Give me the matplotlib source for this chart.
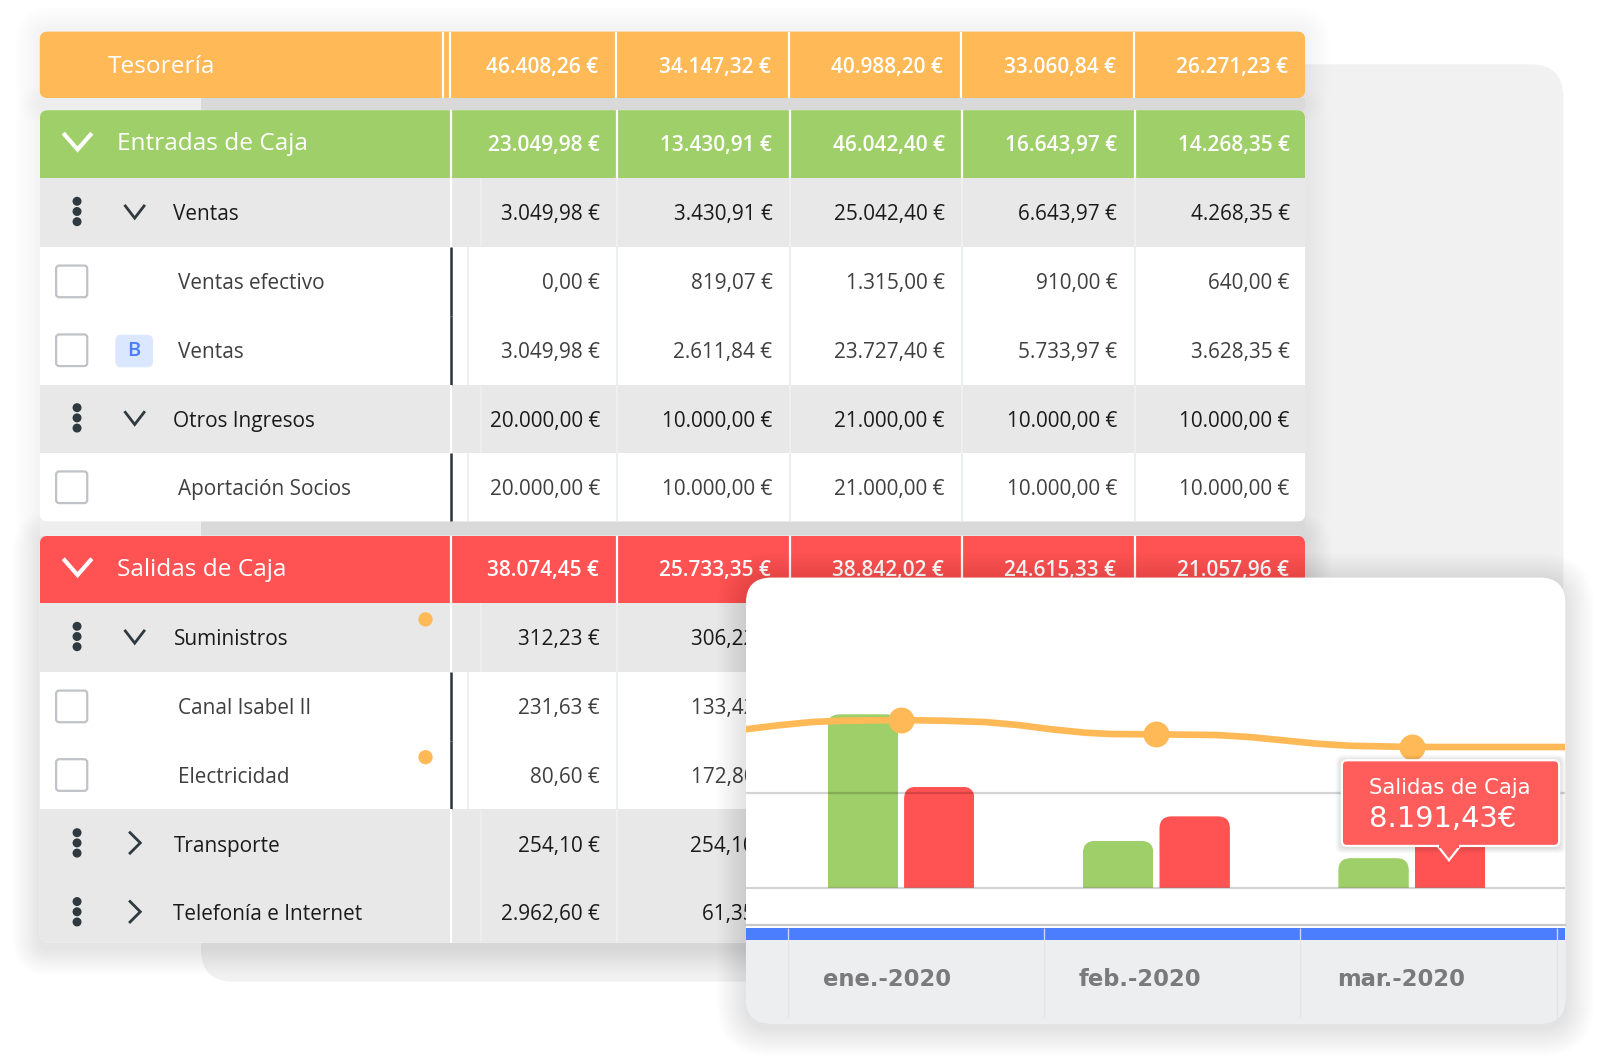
import matplotlib
matplotlib.use("Agg")
import matplotlib.pyplot as plt
from matplotlib.patches import FancyBboxPatch, Rectangle, Circle, Polygon
from matplotlib.path import Path
from matplotlib.transforms import ScaledTranslation

# ---------- data ----------
tesoreria_vals = ["46.408,26 €", "34.147,32 €", "40.988,20 €", "33.060,84 €", "26.271,23 €"]
entradas_vals = ["23.049,98 €", "13.430,91 €", "46.042,40 €", "16.643,97 €", "14.268,35 €"]
ventas_vals = ["3.049,98 €", "3.430,91 €", "25.042,40 €", "6.643,97 €", "4.268,35 €"]
efectivo_vals = ["0,00 €", "819,07 €", "1.315,00 €", "910,00 €", "640,00 €"]
ventas_b_vals = ["3.049,98 €", "2.611,84 €", "23.727,40 €", "5.733,97 €", "3.628,35 €"]
otros_vals = ["20.000,00 €", "10.000,00 €", "21.000,00 €", "10.000,00 €", "10.000,00 €"]
socios_vals = ["20.000,00 €", "10.000,00 €", "21.000,00 €", "10.000,00 €", "10.000,00 €"]
salidas_vals = ["38.074,45 €", "25.733,35 €", "38.842,02 €", "24.615,33 €", "21.057,96 €"]
suministros_vals = ["312,23 €", "306,22 €"]
canal_vals = ["231,63 €", "133,42 €"]
electricidad_vals = ["80,60 €", "172,80 €"]
transporte_vals = ["254,10 €", "254,10 €"]
telefonia_vals = ["2.962,60 €", "61,35 €"]

months = ["ene.-2020", "feb.-2020", "mar.-2020"]
chart_entradas = [24260, 6560, 4140]
chart_salidas = [14130, 9990, 8191.43]
tesoreria_points = [23460, 21460, 19730]
curve_x = [-0.61, -0.48, -0.35, -0.232, 0.002, 0.172, 0.329, 0.459, 0.59, 0.72, 0.825, 0.994,
           1.236, 1.366, 1.497, 1.628, 1.758, 2.0, 2.61]
curve_y = [22160, 22720, 23180, 23360, 23460, 23360, 23180, 22760, 22160, 21690, 21500, 21460,
           21360, 21080, 20620, 20150, 19860, 19690, 19690]
grid_values = [0, 13200]
tooltip_title = "Salidas de Caja"
tooltip_value = "8.191,43€"

# ---------- style ----------
ORANGE = "#ffb957"; GREEN = "#9fcf68"; RED = "#ff5252"; GREY = "#e8e8e8"; BLUE = "#4a7dff"
DARK = "#2f3a40"
FONT = "Open Sans"
W, H = 1568, 1036.8

fig = plt.figure(figsize=(16, 10.58), dpi=100, facecolor="white")
ax = fig.add_axes([0, 0, 1, 1], zorder=1)
ax.set_xlim(0, W); ax.set_ylim(H, 0); ax.axis("off")


def rbox(x0, y0, x1, y1, r, **kw):
    p = FancyBboxPatch((x0, y0), x1 - x0, y1 - y0, boxstyle=f"round,pad=0,rounding_size={r}", **kw)
    ax.add_patch(p)
    return p


def shadow(x0, y0, x1, y1, r, spread, total, z, dy=0):
    n = int(spread / 2)
    for i in range(n):
        s = spread * (1 - i / n)
        rbox(x0 - s, y0 - s + dy, x1 + s, y1 + s + dy, r + s, fc=(0, 0, 0, total / n), ec="none", zorder=z)


# back card
rbox(197, 63, 1532, 962, 32, fc="#f1f1f1", ec="none", zorder=0)
shadow(39, 31, 1279, 96, 8, 24, 0.06, 0.2)
shadow(39, 108, 1279, 511, 8, 24, 0.06, 0.2)
shadow(39, 525, 1279, 924, 8, 26, 0.09, 0.2, dy=5)
for ya, yb in [(96, 108), (511, 525)]:
    ax.add_patch(Rectangle((39, ya), 158, yb - ya, fc="#eeeeee", ec="none", zorder=0.3))
    ax.add_patch(Rectangle((197, ya), 1082, yb - ya, fc="#d9d9d9", ec="none", zorder=0.3))

VAL_R = [588, 757, 926, 1095, 1264]
COL = [442, 605, 774, 943, 1112]
X0, X1 = 39, 1279
BODY = 14.95


def txt(x, y, s, size=BODY, color="#1b1b1b", ha="left", weight="normal", z=5):
    ax.text(x, y, s, fontsize=size, color=color, ha=ha, va="baseline", family=FONT, weight=weight, zorder=z)


def values(vals, yc, color="#1b1b1b", dx=0, weight="normal", size=BODY):
    for r, v in zip(VAL_R, vals):
        txt(r + dx, yc + 7.5, v, color=color, ha="right", weight=weight, size=size)


def vsep(x, y0, y1, color, lw=1.5, z=4):
    ax.plot([x, x], [y0, y1], color=color, lw=lw, solid_capstyle="butt", zorder=z)


def chevron(x, y, w, h, down=True, color=DARK, lw=2.0):
    if down:
        xs, ys = [x - w, x, x + w], [y - h, y + h, y - h]
    else:
        xs, ys = [x - h, x + h, x - h], [y - w, y, y + w]
    ax.plot(xs, ys, color=color, lw=lw, solid_joinstyle="miter", solid_capstyle="butt", zorder=5)


def kebab(yc):
    for dy in (-10, 0, 10):
        ax.add_patch(Circle((75.5, yc + dy), 4.4, fc=DARK, ec="none", zorder=5))


def checkbox(yc):
    rbox(55, yc - 15.5, 85.5, yc + 15.5, 3, fc="white", ec="#bfc3c7", lw=1.6, zorder=5)


def header(y0, y1, color, label, clip, tx=115, cols=COL, dy=6):
    r = Rectangle((X0, y0), X1 - X0, y1 - y0, fc=color, ec="none", zorder=1)
    ax.add_patch(r); r.set_clip_path(clip)
    for c in cols:
        vsep(c, y0, y1, "white", 1.6)
    yc = (y0 + y1) / 2
    txt(tx, yc + dy, label, size=17.6, color="white")


def grey_row(y0, y1, label, vals, clip, down=True, yc=None):
    r = Rectangle((X0, y0), X1 - X0, y1 - y0, fc=GREY, ec="none", zorder=1)
    ax.add_patch(r); r.set_clip_path(clip)
    vsep(COL[0], y0, y1, "white", 1.6)
    vsep(471, y0, y1, "#f0f0f0", 1.2)
    for c in COL[1:]:
        vsep(c, y0, y1, "#f1f1f1", 1.2)
    yc = (y0 + y1) / 2 if yc is None else yc
    kebab(yc - 1)
    if down:
        chevron(132, yc - 1, 10, 6.5)
    else:
        chevron(132, yc - 1, 11, 5.5, down=False)
    txt(170, yc + 7.5, label)
    values(vals, yc)


def white_row(y0, y1, label, vals, clip):
    r = Rectangle((X0, y0), X1 - X0, y1 - y0, fc="white", ec="none", zorder=1)
    ax.add_patch(r); r.set_clip_path(clip)
    vsep(COL[0], y0, y1, "#2b3238", 1.8)
    vsep(459, y0, y1, "#e9ecee", 1.2)
    for c in COL[1:]:
        vsep(c, y0, y1, "#e9ecee", 1.2)
    yc = (y0 + y1) / 2
    checkbox(yc)
    txt(174.5, yc + 7.5, label, color="#3f3f3f")
    values(vals, yc, color="#3f3f3f")


# group 1: Tesorería
c1 = rbox(X0, 31, X1, 96, 8, fc=ORANGE, ec="none", zorder=1)
header(31, 96, ORANGE, "Tesorería", c1, tx=106, cols=[434, 441, 604, 773, 942, 1111], dy=8)
values(tesoreria_vals, 64, color="white", dx=-1.5, weight="semibold", size=15.0)

# group 2: Entradas
c2 = rbox(X0, 108, X1, 511, 8, fc="white", ec="none", zorder=0.9)
rows2 = [108, 174.5, 242, 309.5, 377, 444, 511]
header(rows2[0], rows2[1], GREEN, "Entradas de Caja", c2)
values(entradas_vals, 140, color="white", weight="semibold", size=15.0)
chevron(76, 138.5, 14, 8, color="white", lw=3.0)
grey_row(rows2[1], rows2[2], "Ventas", ventas_vals, c2)
white_row(rows2[2], rows2[3], "Ventas efectivo", efectivo_vals, c2)
white_row(rows2[3], rows2[4], "Ventas", ventas_b_vals, c2)
rbox(113, 328, 150, 360, 6, fc="#dbe7ff", ec="none", zorder=5)
ax.text(131, 344, "B", color=BLUE, fontsize=14.5, weight="semibold", family=FONT, ha="center", va="center", zorder=6)
grey_row(rows2[4], rows2[5], "Otros Ingresos", otros_vals, c2)
white_row(rows2[5], rows2[6], "Aportación Socios", socios_vals, c2)

# group 3: Salidas
c3 = rbox(X0, 525, X1, 924, 8, fc="white", ec="none", zorder=0.9)
rows3 = [525, 591, 658.5, 726, 793, 861, 924]
header(rows3[0], rows3[1], RED, "Salidas de Caja", c3)
values(salidas_vals, 557, color="white", dx=-1, weight="semibold", size=15.0)
chevron(76, 555.5, 14, 8, color="white", lw=3.0)
grey_row(rows3[1], rows3[2], "Suministros", suministros_vals, c3)
white_row(rows3[2], rows3[3], "Canal Isabel II", canal_vals, c3)
white_row(rows3[3], rows3[4], "Electricidad", electricidad_vals, c3)
grey_row(rows3[4], rows3[5], "Transporte", transporte_vals, c3, down=False)
grey_row(rows3[5], rows3[6], "Telefonía e Internet", telefonia_vals, c3, down=False, yc=894.5)
for yd in (607, 742):
    ax.add_patch(Circle((417, yd), 7, fc=ORANGE, ec="none", zorder=6))

# chart card
shadow(731, 566, 1534, 1003, 25, 28, 0.09, 10, dy=4)
card = rbox(731, 566, 1534, 1003, 25, fc="white", ec="none", zorder=11)
r = Rectangle((731, 921), 803, 90, fc="#edeef0", ec="none", zorder=11.5)
ax.add_patch(r); r.set_clip_path(card)
ax.add_patch(Rectangle((731, 909), 803, 12, fc=BLUE, ec="none", zorder=11.6))
for xs in (772, 1023, 1274, 1526):
    vsep(xs, 909, 921, "#c9d8ff", 1.0, z=11.7)
    vsep(xs, 921, 998, "#e3e4e6", 1.0, z=11.7)

# chart axes (plotted from data)
SCALE_X, SCALE_Y = 250.3, 142.7
BASE_X, BASE_Y = 883, 870
ax2 = fig.add_axes([731 / W, 1 - 906 / H, 803 / W, 340 / H], zorder=2)
ax2.patch.set_alpha(0)
ax2.set_xlim((731 - BASE_X) / SCALE_X, (1534 - BASE_X) / SCALE_X)
ax2.set_ylim((BASE_Y - 906) * SCALE_Y, (BASE_Y - 566) * SCALE_Y)
for s in ("top", "left", "right"):
    ax2.spines[s].set_visible(False)
ax2.spines["bottom"].set_color("#c8c8c8"); ax2.spines["bottom"].set_linewidth(1.6)
ax2.set_axisbelow(False)
ax2.set_yticks(grid_values, labels=["", ""])
ax2.yaxis.grid(True, color="black", alpha=0.17, lw=1.6)
ax2.tick_params(length=0)
pos = list(range(len(months)))
ax2.set_xticks(pos, labels=months)
ax2.tick_params(axis="x", pad=31)
for lab, off in zip(ax2.get_xticklabels(), (-14, -16, -10.5)):
    lab.set_family("DejaVu Sans"); lab.set_weight("bold"); lab.set_color("#7a7a7a"); lab.set_fontsize(16.3)
    lab.set_transform(lab.get_transform() + ScaledTranslation(off * 1.0204 / 100, 0, fig.dpi_scale_trans))

bw = 69 / SCALE_X
off = 37.5 / SCALE_X
b1 = ax2.bar([p - off for p in pos], chart_entradas, bw, color=GREEN, zorder=1)
b2 = ax2.bar([p + off for p in pos], chart_salidas, bw, color=RED, zorder=1)
rx, ry = 12 / SCALE_X, 12 * SCALE_Y
for rect in list(b1) + list(b2):
    x, w, h = rect.get_x(), rect.get_width(), rect.get_height()
    verts = [(x, 0), (x, h - ry), (x, h), (x + rx, h), (x + w - rx, h), (x + w, h), (x + w, h - ry), (x + w, 0), (x, 0)]
    codes = [Path.MOVETO, Path.LINETO, Path.CURVE3, Path.CURVE3, Path.LINETO, Path.CURVE3, Path.CURVE3, Path.LINETO, Path.CLOSEPOLY]
    rect.set_clip_path(Path(verts, codes), ax2.transData)
ax2.plot(curve_x, curve_y, color=ORANGE, lw=4.8, solid_joinstyle="round", zorder=3)
ax2.plot(pos, tesoreria_points, ls="none", marker="o", ms=18.7, color=ORANGE, mec="none", zorder=4)

# tooltip overlay
ax3 = fig.add_axes([0, 0, 1, 1], zorder=3)
ax3.set_xlim(0, W); ax3.set_ylim(H, 0); ax3.axis("off"); ax3.patch.set_alpha(0)
for s in range(6, 0, -1):
    ax3.add_patch(FancyBboxPatch((1315 - s, 745 - s + 1), 213 + 2 * s, 84 + 2 * s, boxstyle="round,pad=0,rounding_size=6",
                                 fc=(0, 0, 0, 0.022), ec="none"))
ax3.add_patch(Polygon([(1409, 829), (1420, 843), (1431, 829)], fc="#ff5c5c", ec="white", lw=1.6, joinstyle="miter"))
ax3.add_patch(FancyBboxPatch((1315, 745), 213, 84, boxstyle="round,pad=0,rounding_size=5", fc="#ff5c5c", ec="white", lw=1.6))
ax3.add_patch(Rectangle((1410.5, 826), 19, 5, fc="#ff5c5c", ec="none"))
ax3.text(1342, 778.5, tooltip_title, color="white", fontsize=15.2, family="DejaVu Sans", ha="left", va="baseline")
ax3.text(1342, 810, tooltip_value, color="white", fontsize=20.8, family="DejaVu Sans", ha="left", va="baseline")

fig.savefig("out.png", dpi=100, facecolor="white")
